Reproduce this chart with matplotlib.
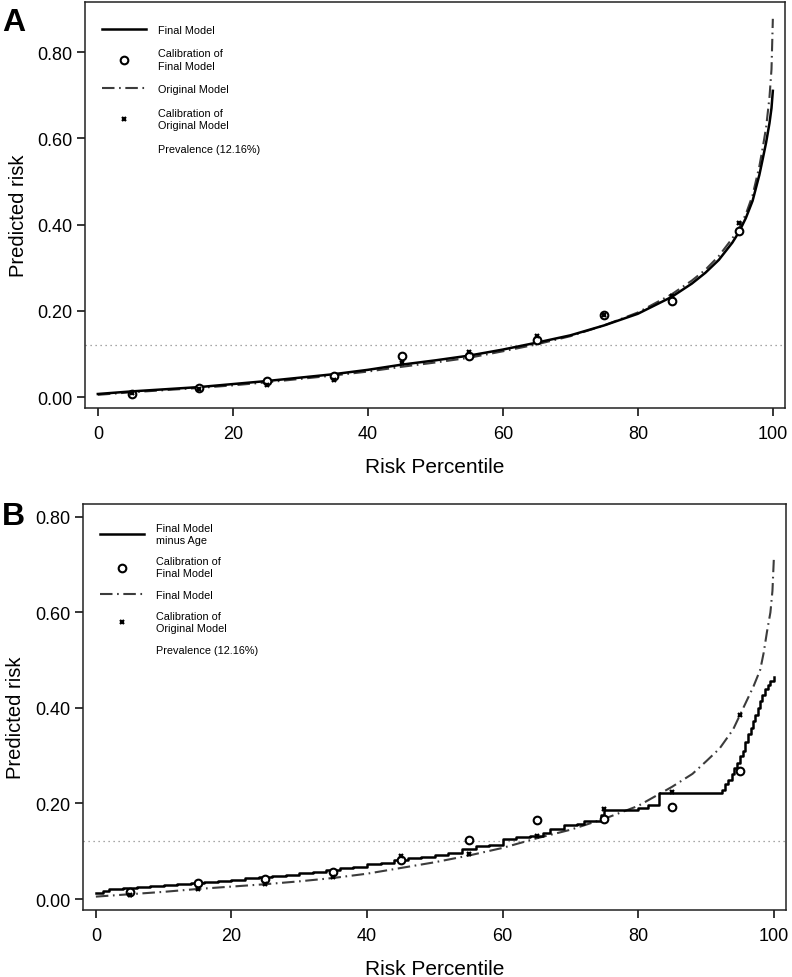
import matplotlib
matplotlib.use('Agg')
import matplotlib.pyplot as plt
from matplotlib.ticker import FormatStrFormatter

plt.rcParams['font.family'] = ['Liberation Sans', 'DejaVu Sans']

# ---------------- data ----------------
prevalence = 0.1216
decile_mid = [5, 15, 25, 35, 45, 55, 65, 75, 85, 95]
x_ticks = [0, 20, 40, 60, 80, 100]
y_ticks = [0.0, 0.2, 0.4, 0.6, 0.8]

# Panel A
pct_A = [0, 5, 10, 15, 20, 25, 30, 35, 40, 45, 50, 55, 60, 65, 70, 75, 80, 85, 88,
         90, 92, 94, 95, 96, 97, 98, 98.5, 99, 99.5, 99.8, 100]
final_A = [0.007, 0.013, 0.018, 0.023, 0.030, 0.037, 0.045, 0.053, 0.063, 0.075,
           0.085, 0.096, 0.110, 0.126, 0.143, 0.166, 0.193, 0.232, 0.263, 0.288,
           0.318, 0.358, 0.383, 0.415, 0.455, 0.515, 0.552, 0.590, 0.635, 0.670, 0.710]
original_A = [0.005, 0.011, 0.016, 0.021, 0.027, 0.034, 0.042, 0.050, 0.059, 0.070,
              0.080, 0.091, 0.106, 0.122, 0.141, 0.166, 0.196, 0.238, 0.270, 0.295,
              0.327, 0.368, 0.392, 0.424, 0.468, 0.535, 0.578, 0.625, 0.695, 0.760, 0.877]
cal_final_A = [0.008, 0.020, 0.038, 0.049, 0.094, 0.096, 0.133, 0.191, 0.223, 0.385]
cal_orig_A = [0.010, 0.018, 0.028, 0.039, 0.080, 0.104, 0.142, 0.191, 0.235, 0.404]

# Panel B
pct_B_step = [0, 1, 2, 4, 6, 8, 10, 12, 14, 16, 18, 20, 22, 24, 26, 28, 30, 32, 34,
              36, 38, 40, 42, 44, 46, 48, 50, 52, 54, 56, 58, 60, 62, 64, 66, 67,
              69, 71, 72, 74.5, 75, 80, 81.5, 83, 92.3, 92.8, 93.3, 93.8, 94.2,
              94.6, 95.0, 95.4, 95.8, 96.2, 96.6, 97.0, 97.3, 97.7, 98.0, 98.3,
              98.7, 99.1, 99.5, 100]
minus_age_B = [0.012, 0.017, 0.020, 0.023, 0.026, 0.028, 0.030, 0.032, 0.034, 0.036,
               0.038, 0.040, 0.043, 0.046, 0.049, 0.051, 0.054, 0.057, 0.061, 0.064,
               0.068, 0.073, 0.076, 0.081, 0.085, 0.088, 0.092, 0.097, 0.104, 0.110,
               0.114, 0.126, 0.129, 0.132, 0.139, 0.147, 0.154, 0.157, 0.164, 0.176,
               0.186, 0.190, 0.197, 0.221, 0.228, 0.240, 0.250, 0.262, 0.275, 0.285,
               0.300, 0.310, 0.328, 0.345, 0.358, 0.372, 0.386, 0.400, 0.415, 0.428,
               0.440, 0.448, 0.456, 0.465]
pct_B = [0, 5, 10, 15, 20, 25, 30, 35, 40, 45, 50, 55, 60, 65, 70, 75, 80, 85, 88,
         90, 92, 94, 95, 96, 97, 98, 98.5, 99, 99.5, 99.8, 100]
final_B = [0.005, 0.010, 0.015, 0.021, 0.026, 0.031, 0.037, 0.044, 0.053, 0.065,
           0.077, 0.091, 0.107, 0.127, 0.145, 0.168, 0.195, 0.235, 0.262, 0.288,
           0.315, 0.355, 0.385, 0.415, 0.445, 0.480, 0.515, 0.560, 0.600, 0.645, 0.710]
cal_final_B = [0.015, 0.034, 0.042, 0.056, 0.082, 0.124, 0.165, 0.168, 0.193, 0.268]
cal_orig_B = [0.008, 0.020, 0.032, 0.046, 0.091, 0.095, 0.132, 0.188, 0.225, 0.386]

# ---------------- styles ----------------
DASHDOT = (6, 2.2, 0.8, 2.2)
DD_COLOR = '#3c3c3c'
W, H = 792, 978

fig = plt.figure(figsize=(W / 100, H / 100), dpi=100)
axA = fig.add_axes([85 / W, 1 - 409 / H, 700 / W, 406 / H])
axB = fig.add_axes([83 / W, 1 - 911 / H, 703 / W, 406 / H])


def style(ax, ylim):
    ax.set_xlim(-1.9, 101.8)
    ax.set_ylim(*ylim)
    ax.set_xticks(x_ticks)
    ax.set_yticks(y_ticks)
    ax.yaxis.set_major_formatter(FormatStrFormatter('%.2f'))
    ax.tick_params(direction='out', length=6, width=1.1, labelsize=13,
                   colors='black')
    ax.tick_params(axis='x', pad=6)
    ax.tick_params(axis='y', pad=3)
    for s in ax.spines.values():
        s.set_linewidth(1.1)
        s.set_color('#222222')
    ax.set_xlabel('Risk Percentile', fontsize=15, labelpad=11)
    ax.set_ylabel('Predicted risk', fontsize=14.5)
    ax.yaxis.set_label_coords(-0.082, 0.475)


def legend(ax, y, spacing, linesp):
    leg = ax.legend(loc='upper left', bbox_to_anchor=(0.024, y), frameon=False,
                    fontsize=7.8, handlelength=4.1, handletextpad=1.1,
                    labelspacing=spacing, borderpad=0, borderaxespad=0)
    for t in leg.get_texts():
        t.set_linespacing(linesp)
    leg.legend_handles[4].set_visible(False)
    return leg


# Panel A
axA.plot(pct_A, final_A, color='black', lw=1.8, label='Final Model', zorder=4)
axA.plot(decile_mid, cal_final_A, ls='none', marker='o', ms=5.5, mfc='white',
         mec='black', mew=1.5, label='Calibration of\nFinal Model', zorder=5)
axA.plot(pct_A, original_A, color=DD_COLOR, lw=1.5, dashes=DASHDOT,
         label='Original Model', zorder=3)
axA.plot(decile_mid, cal_orig_A, ls='none', marker='x', ms=3.5, color='black',
         mew=1.6, label='Calibration of\nOriginal Model', zorder=6)
axA.axhline(prevalence, color='#8a8a8a', lw=0.9, ls=(0, (1, 3)),
            label='Prevalence (12.16%)', zorder=1)
style(axA, (-0.0255, 0.916))
legend(axA, 0.944, 1.25, 1.3)

# Panel B
axB.plot(pct_B_step, minus_age_B, color='black', lw=1.8, drawstyle='steps-post',
         label='Final Model\nminus Age', zorder=4)
axB.plot(decile_mid, cal_final_B, ls='none', marker='o', ms=5.5, mfc='white',
         mec='black', mew=1.5, label='Calibration of\nFinal Model', zorder=5)
axB.plot(pct_B, final_B, color=DD_COLOR, lw=1.5, dashes=DASHDOT,
         label='Final Model', zorder=3)
axB.plot(decile_mid, cal_orig_B, ls='none', marker='x', ms=3.5, color='black',
         mew=1.6, label='Calibration of\nOriginal Model', zorder=6)
axB.axhline(prevalence, color='#8a8a8a', lw=0.9, ls=(0, (1, 3)),
            label='Prevalence (12.16%)', zorder=1)
style(axB, (-0.023, 0.827))
legend(axB, 0.953, 1.05, 1.25)

fig.text(2 / W, 1 - 8 / H, 'A', fontsize=23, fontweight='bold', ha='left', va='top')
fig.text(2 / W, 1 - 502 / H, 'B', fontsize=23, fontweight='bold', ha='left', va='top')

fig.savefig('out.png', dpi=100)
